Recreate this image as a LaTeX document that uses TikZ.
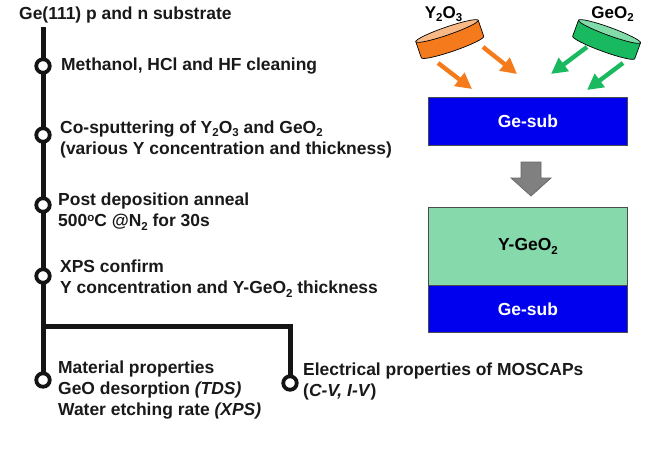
\documentclass[tikz,border=0pt]{standalone}
\usepackage{fontspec}
\usetikzlibrary{arrows.meta}
\setmainfont{Liberation Sans}
\newcommand{\lowtwo}[1]{\raisebox{-3.5pt}{\fontsize{11.5}{11.5}\selectfont #1}}
\newcommand{\hightwo}[1]{\raisebox{5.5pt}{\fontsize{11.5}{11.5}\selectfont #1}}
\definecolor{subblue}{RGB}{0,0,238}
\definecolor{filmgreen}{RGB}{133,217,170}
\definecolor{discorange}{RGB}{245,122,28}
\definecolor{discorangetop}{RGB}{248,185,135}
\definecolor{discgreen}{RGB}{25,185,95}
\definecolor{discgreentop}{RGB}{130,220,170}
\definecolor{flowgrey}{RGB}{128,128,128}
\tikzset{
  x=1pt,y=-1pt,
  every node/.style={font=\fontsize{17.45}{21}\selectfont\bfseries},
  label/.style={anchor=west,inner sep=0pt,align=left,text=black!90},
  flow/.style={line width=5pt,black!92},
  stepdot/.style={circle,draw=black!92,line width=3.8pt,fill=white,minimum size=13.5pt,inner sep=0pt},
  layer/.style={draw=black!70,line width=0.8pt,minimum width=199pt,anchor=north west,inner sep=0pt},
  sourcearrow/.style={-{Triangle[length=16pt,width=16pt]},line width=4.4pt},
  discside/.style={draw=black,line width=0.7pt},
  disctop/.style={draw=black,line width=0.7pt},
}
\begin{document}
\begin{tikzpicture}
\useasboundingbox (0,0) rectangle (660,451);
\fill[white] (0,0) rectangle (660,451);

% process flow on the left
\coordinate (start) at (43,27);
\coordinate (branch) at (43,326);
\coordinate (corner) at (290,326);
\coordinate (p1) at (43,66);
\coordinate (p5) at (43,380);
\coordinate (p6) at (290,383);
\draw[flow] (start) -- (p5);
\draw[flow,line join=miter] (branch) -- (corner) -- (p6);
\node[stepdot] (s1) at (p1) {};
\node[stepdot] (s2) at (43,135) {};
\node[stepdot] (s3) at (43,205) {};
\node[stepdot] (s4) at (43,276) {};
\node[stepdot] (s5) at (p5) {};
\node[stepdot] (s6) at (p6) {};

\node[label] (t0) at (19,15) {Ge(111) p and n substrate};
\node[label] (t1) at (61,66) {Methanol, HCl and HF cleaning};
\node[label] (t2) at (60,139) {Co-sputtering of Y\lowtwo{2}O\lowtwo{3} and GeO\lowtwo{2}\\(various Y concentration and thickness)};
\node[label] (t3) at (58,211.5) {Post deposition anneal\\500\hightwo{o}C @N\lowtwo{2} for 30s};
\node[label] (t4) at (60,278.5) {XPS confirm\\Y concentration and Y-GeO\lowtwo{2} thickness};
\node[label] (t5) at (58,390.5) {Material properties\\GeO desorption \textit{(TDS)}\\Water etching rate \textit{(XPS)}};
\node[label] (t6) at (303,381) {Electrical properties of MOSCAPs\\(\textit{C-V, I-V})};

% sputtering targets and their deposition fluxes
\begin{scope}[shift={(447,31)},rotate=19]
  \path[fill=discorange,discside] (-33,0) -- (-33,17) arc[start angle=180,end angle=0,x radius=33,y radius=4] -- (33,0) -- cycle;
  \path[fill=discorangetop,disctop] (0,0) ellipse[x radius=33,y radius=4];
\end{scope}
\begin{scope}[shift={(609.5,31.5)},rotate=-20]
  \path[fill=discgreen,discside] (-33,0) -- (-33,17) arc[start angle=180,end angle=0,x radius=33,y radius=4] -- (33,0) -- cycle;
  \path[fill=discgreentop,disctop] (0,0) ellipse[x radius=33,y radius=4];
\end{scope}
\coordinate (oa1) at (438,63); \coordinate (oa2) at (472,89);
\coordinate (ob1) at (483,47); \coordinate (ob2) at (517,74);
\coordinate (ga1) at (587,47); \coordinate (ga2) at (551,74);
\coordinate (gb1) at (623,63); \coordinate (gb2) at (587,90);
\draw[sourcearrow,discorange] (oa1) -- (oa2);
\draw[sourcearrow,discorange] (ob1) -- (ob2);
\draw[sourcearrow,discgreen] (ga1) -- (ga2);
\draw[sourcearrow,discgreen] (gb1) -- (gb2);
\node[inner sep=0pt,font=\fontsize{17}{20}\selectfont\bfseries] (y2o3) at (443.5,14) {Y\lowtwo{2}O\lowtwo{3}};
\node[inner sep=0pt,font=\fontsize{17}{20}\selectfont\bfseries] (geo2) at (612.5,14) {GeO\lowtwo{2}};

% substrate before and after deposition
\node[layer,fill=subblue,text=white,minimum height=48pt] (sub1) at (428,97) {Ge-sub};
\path[fill=flowgrey,draw=black!60,line width=0.7pt] (521,162) -- (541,162) -- (541,178) -- (551,178) -- (531,196) -- (511,178) -- (521,178) -- cycle;
\node[layer,fill=filmgreen,text=black,minimum height=78pt] (film) at (428,207) {Y-GeO\lowtwo{2}};
\node[layer,fill=subblue,text=white,minimum height=47pt] (sub2) at (428,285) {Ge-sub};
\end{tikzpicture}
\end{document}
